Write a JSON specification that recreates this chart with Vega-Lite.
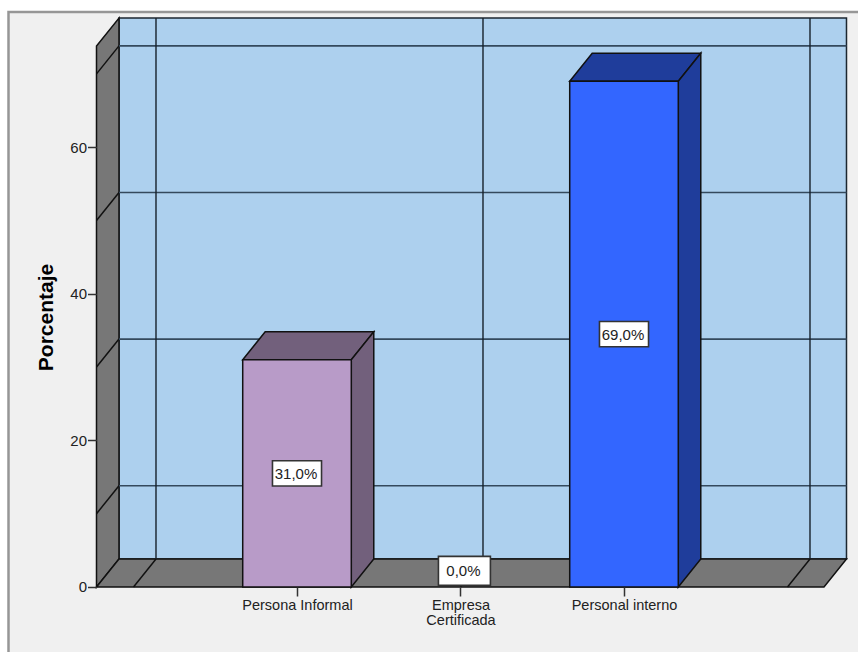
{
  "$schema": "https://vega.github.io/schema/vega-lite/v6.json",
  "width": 858,
  "height": 652,
  "padding": 0,
  "autosize": {"type": "none"},
  "background": "#ffffff",
  "config": {
    "view": {"stroke": null},
    "font": "Liberation Sans"
  },
  "params": [
    {"name": "dx", "value": 0.1376},
    {"name": "dy", "value": 3.82},
    {"name": "medio", "value": 0.332},
    {"name": "izq", "value": -0.2263},
    {"name": "der", "value": 4.2232},
    {"name": "techo", "value": 73.8}
  ],
  "datasets": {
    "barras": [
      {"categoria": "Persona Informal", "orden": 1, "porcentaje": 31},
      {"categoria": "Empresa Certificada", "orden": 2, "porcentaje": 0},
      {"categoria": "Personal interno", "orden": 3, "porcentaje": 69}
    ],
    "niveles": [{"nivel": 10}, {"nivel": 30}, {"nivel": 50}, {"nivel": 70}],
    "divisiones": [{"division": 0}, {"division": 2}, {"division": 4}],
    "profundidad": [{"t": 0}, {"t": 1}]
  },
  "layer": [
    {
      "description": "Chart panel with both axes",
      "data": {"values": [{"panel": 1}]},
      "mark": {"type": "rect", "fill": "#f0f0f0", "stroke": "#969696", "strokeWidth": 2.5},
      "encoding": {
        "x": {
          "datum": -0.7645,
          "type": "quantitative",
          "scale": {"domain": [-0.8165, 4.4312], "nice": false, "zero": false},
          "axis": {
            "orient": "bottom",
            "offset": -65,
            "zindex": 1,
            "values": [1, 2, 3],
            "title": null,
            "grid": false,
            "domain": false,
            "tickSize": 9,
            "tickColor": "#333333",
            "tickWidth": 1.5,
            "labelPadding": 2,
            "labelFontSize": 14.5,
            "labelColor": "#222222",
            "labelBaseline": "top",
            "labelLineHeight": 15,
            "labelFlush": false,
            "labelOverlap": false,
            "labelExpr": "datum.value == 1 ? 'Persona Informal' : datum.value == 2 ? ['Empresa', 'Certificada'] : 'Personal interno'"
          }
        },
        "x2": {"datum": 4.7},
        "y": {
          "datum": 78.44,
          "type": "quantitative",
          "scale": {"domain": [-8.868, 80.08], "nice": false, "zero": false},
          "axis": {
            "orient": "left",
            "offset": -96.5,
            "zindex": 1,
            "values": [0, 20, 40, 60],
            "title": "Porcentaje",
            "titleFontSize": 21,
            "titleFontWeight": "bold",
            "titleColor": "#000000",
            "titleX": -50,
            "titleY": 317,
            "titleAngle": -90,
            "titleBaseline": "middle",
            "grid": false,
            "domain": false,
            "tickSize": 9,
            "tickColor": "#333333",
            "tickWidth": 1.5,
            "labelPadding": 1,
            "labelFontSize": 15,
            "labelColor": "#222222"
          }
        },
        "y2": {"datum": -12}
      }
    },
    {
      "description": "Back wall",
      "data": {"values": [{"pared": "fondo"}]},
      "mark": {"type": "rect", "fill": "#add0ee", "stroke": "#1c2630", "strokeWidth": 1.5},
      "encoding": {
        "x": {"datum": -0.0887, "type": "quantitative"},
        "x2": {"datum": 4.3608},
        "y": {"datum": 3.82, "type": "quantitative"},
        "y2": {"datum": 77.62}
      }
    },
    {
      "description": "Left wall",
      "data": {"name": "profundidad"},
      "transform": [
        {"calculate": "izq + datum.t * dx", "as": "px"},
        {"calculate": "datum.t * dy", "as": "base"},
        {"calculate": "techo + datum.t * dy", "as": "alto"}
      ],
      "mark": {"type": "area", "fill": "#777777", "stroke": "#111111", "strokeWidth": 1.5},
      "encoding": {
        "x": {"field": "px", "type": "quantitative"},
        "y": {"field": "base", "type": "quantitative", "stack": null},
        "y2": {"field": "alto"}
      }
    },
    {
      "description": "Floor",
      "data": {"name": "profundidad"},
      "transform": [
        {"calculate": "izq + datum.t * dx", "as": "inicio"},
        {"calculate": "der + datum.t * dx", "as": "fin"},
        {"calculate": "datum.t * dy", "as": "py"}
      ],
      "mark": {"type": "area", "orient": "horizontal", "fill": "#777777", "stroke": "#111111", "strokeWidth": 1.5},
      "encoding": {
        "y": {"field": "py", "type": "quantitative"},
        "x": {"field": "inicio", "type": "quantitative", "stack": null},
        "x2": {"field": "fin"}
      }
    },
    {
      "description": "Horizontal grid lines on the left wall",
      "data": {"name": "niveles"},
      "transform": [
        {"calculate": "izq", "as": "a"},
        {"calculate": "izq + dx", "as": "b"},
        {"calculate": "datum.nivel + dy", "as": "arriba"}
      ],
      "mark": {"type": "rule", "stroke": "#111111", "strokeWidth": 1.5},
      "encoding": {
        "x": {"field": "a", "type": "quantitative"},
        "x2": {"field": "b"},
        "y": {"field": "nivel", "type": "quantitative"},
        "y2": {"field": "arriba"}
      }
    },
    {
      "description": "Horizontal grid lines on the back wall",
      "data": {"name": "niveles"},
      "transform": [
        {"calculate": "izq + dx", "as": "a"},
        {"calculate": "der + dx", "as": "b"},
        {"calculate": "datum.nivel + dy", "as": "py"}
      ],
      "mark": {"type": "rule", "stroke": "#34495c", "strokeWidth": 1.6},
      "encoding": {
        "x": {"field": "a", "type": "quantitative"},
        "x2": {"field": "b"},
        "y": {"field": "py", "type": "quantitative"}
      }
    },
    {
      "description": "Vertical grid lines on the floor",
      "data": {"name": "divisiones"},
      "transform": [{"calculate": "datum.division + dx", "as": "b"}, {"calculate": "dy", "as": "arriba"}, {"calculate": "0", "as": "abajo"}],
      "mark": {"type": "rule", "stroke": "#111111", "strokeWidth": 1.5},
      "encoding": {
        "x": {"field": "division", "type": "quantitative"},
        "x2": {"field": "b"},
        "y": {"field": "abajo", "type": "quantitative"},
        "y2": {"field": "arriba"}
      }
    },
    {
      "description": "Vertical grid lines on the back wall",
      "data": {"name": "divisiones"},
      "transform": [{"calculate": "datum.division + dx", "as": "px"}, {"calculate": "dy", "as": "abajo"}, {"calculate": "techo + dy", "as": "arriba"}],
      "mark": {"type": "rule", "stroke": "#16202a", "strokeWidth": 1.4},
      "encoding": {
        "x": {"field": "px", "type": "quantitative"},
        "y": {"field": "abajo", "type": "quantitative"},
        "y2": {"field": "arriba"}
      }
    },
    {
      "description": "Top faces of the bars",
      "data": {"name": "barras"},
      "transform": [
        {"filter": "datum.porcentaje > 0"},
        {"calculate": "[0, 1]", "as": "t"},
        {"flatten": ["t"]},
        {"calculate": "'sombra ' + datum.categoria", "as": "tono"},
        {"calculate": "datum.orden - medio + datum.t * dx", "as": "inicio"},
        {"calculate": "datum.orden + medio + datum.t * dx", "as": "fin"},
        {"calculate": "datum.porcentaje + datum.t * dy", "as": "py"}
      ],
      "mark": {"type": "area", "orient": "horizontal", "stroke": "#111111", "strokeWidth": 1.5},
      "encoding": {
        "y": {"field": "py", "type": "quantitative"},
        "x": {"field": "inicio", "type": "quantitative", "stack": null},
        "x2": {"field": "fin"},
        "fill": {
          "field": "tono",
          "type": "nominal",
          "legend": null,
          "scale": {
            "domain": ["Persona Informal", "Personal interno", "sombra Persona Informal", "sombra Personal interno"],
            "range": ["#b89bc8", "#3366ff", "#72607c", "#1f3d9b"]
          }
        }
      }
    },
    {
      "description": "Side faces of the bars",
      "data": {"name": "barras"},
      "transform": [
        {"filter": "datum.porcentaje > 0"},
        {"calculate": "[0, 1]", "as": "t"},
        {"flatten": ["t"]},
        {"calculate": "'sombra ' + datum.categoria", "as": "tono"},
        {"calculate": "datum.orden + medio + datum.t * dx", "as": "px"},
        {"calculate": "datum.t * dy", "as": "base"},
        {"calculate": "datum.porcentaje + datum.t * dy", "as": "alto"}
      ],
      "mark": {"type": "area", "stroke": "#111111", "strokeWidth": 1.5},
      "encoding": {
        "x": {"field": "px", "type": "quantitative"},
        "y": {"field": "base", "type": "quantitative", "stack": null},
        "y2": {"field": "alto"},
        "fill": {"field": "tono", "type": "nominal", "legend": null}
      }
    },
    {
      "description": "Front faces of the bars",
      "data": {"name": "barras"},
      "transform": [
        {"filter": "datum.porcentaje > 0"},
        {"calculate": "datum.orden - medio", "as": "inicio"},
        {"calculate": "datum.orden + medio", "as": "fin"},
        {"calculate": "datum.categoria", "as": "tono"},
        {"calculate": "0", "as": "base"}
      ],
      "mark": {"type": "rect", "stroke": "#111111", "strokeWidth": 1.5},
      "encoding": {
        "x": {"field": "inicio", "type": "quantitative"},
        "x2": {"field": "fin"},
        "y": {"field": "base", "type": "quantitative"},
        "y2": {"field": "porcentaje"},
        "fill": {"field": "tono", "type": "nominal", "legend": null}
      }
    },
    {
      "description": "Value label boxes",
      "data": {"name": "barras"},
      "transform": [
        {"calculate": "datum.porcentaje > 0 ? datum.orden : datum.orden + 0.024", "as": "cx"},
        {"calculate": "datum.porcentaje > 0 ? datum.porcentaje / 2 : 2.2", "as": "cy"},
        {"calculate": "datum.porcentaje > 0 ? 0.15 : 0.159", "as": "ax"},
        {"calculate": "datum.porcentaje > 0 ? 1.72 : 1.98", "as": "ay"},
        {"calculate": "datum.cx - datum.ax", "as": "x0"},
        {"calculate": "datum.cx + datum.ax", "as": "x1"},
        {"calculate": "datum.cy - datum.ay", "as": "y0"},
        {"calculate": "datum.cy + datum.ay", "as": "y1"}
      ],
      "mark": {"type": "rect", "fill": "#ffffff", "stroke": "#333333", "strokeWidth": 1.6},
      "encoding": {
        "x": {"field": "x0", "type": "quantitative"},
        "x2": {"field": "x1"},
        "y": {"field": "y0", "type": "quantitative"},
        "y2": {"field": "y1"}
      }
    },
    {
      "description": "Value labels",
      "data": {"name": "barras"},
      "transform": [
        {"calculate": "datum.porcentaje > 0 ? datum.orden : datum.orden + 0.024", "as": "cx"},
        {"calculate": "datum.porcentaje > 0 ? datum.porcentaje / 2 : 2.2", "as": "cy"},
        {"calculate": "replace(format(datum.porcentaje, '.1f'), '.', ',') + '%'", "as": "etiqueta"}
      ],
      "mark": {"type": "text", "fontSize": 15, "color": "#222222", "baseline": "middle", "align": "center", "dy": 0.5, "dx": -1},
      "encoding": {
        "x": {"field": "cx", "type": "quantitative"},
        "y": {"field": "cy", "type": "quantitative"},
        "text": {"field": "etiqueta"}
      }
    }
  ]
}
